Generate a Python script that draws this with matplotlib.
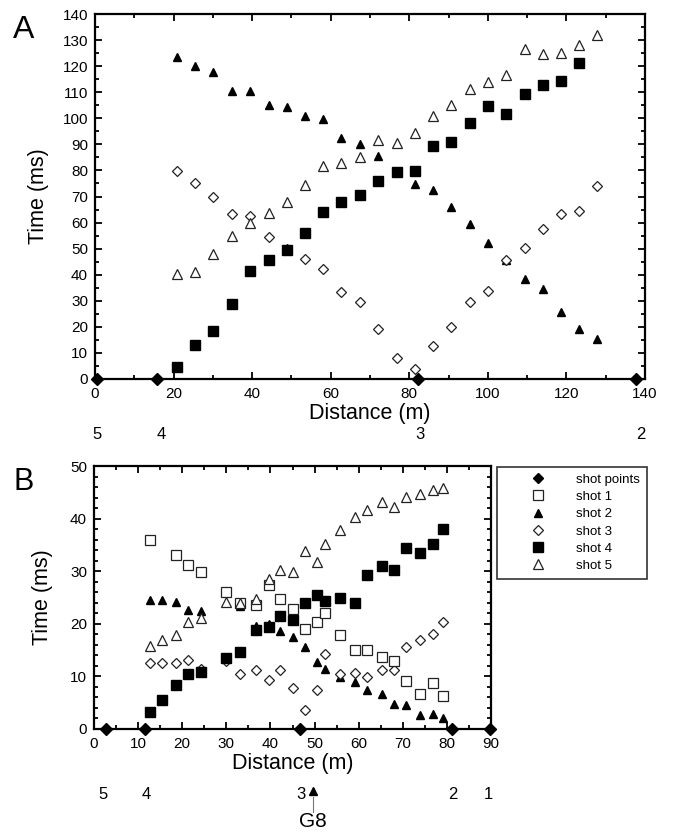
import numpy as np
import matplotlib
matplotlib.use('Agg')
import matplotlib.pyplot as plt
from matplotlib.lines import Line2D
from matplotlib.ticker import MultipleLocator

plt.rcParams['font.family'] = ['Liberation Sans', 'DejaVu Sans']

nan = np.nan

# panel A : receiver positions and first-break times
xa = [20.8, 25.5, 30.1, 34.8, 39.5, 44.2, 48.8, 53.4, 58.0, 62.7, 67.4, 72.1,
      76.8, 81.4, 86.1, 90.7, 95.4, 100.0, 104.7, 109.4, 114.0, 118.6, 123.3, 127.9]
a_shot2 = [123.4, 120.2, 117.8, 110.6, 110.6, 105.0, 104.2, 101.0, 99.7, 92.6, 90.0, 85.5,
           79.5, 74.7, 72.5, 65.9, 59.5, 52.0, 45.6, 38.5, 34.5, 25.7, 19.2, 15.3]
a_shot3 = [79.9, 75.2, 69.7, 63.2, 62.5, 54.3, 50.0, 46.2, 42.3, 33.5, 29.5, 19.2,
           7.9, 3.8, 12.7, 19.9, 29.5, 33.7, 45.6, 50.2, 57.4, 63.2, 64.5, 74.1]
a_shot4 = [4.7, 12.9, 18.3, 28.8, 41.5, 45.5, 49.5, 55.9, 63.9, 68.0, 70.7, 75.9,
           79.5, 79.9, 89.5, 91.0, 98.3, 104.7, 101.5, 109.4, 112.6, 114.3, 121.3, nan]
a_shot5 = [40.3, 40.9, 47.8, 54.8, 59.7, 63.8, 67.8, 74.3, 81.8, 82.7, 85.3, 91.7,
           90.6, 94.2, 100.7, 105.1, 111.2, 113.8, 116.6, 126.6, 124.7, 125.2, 128.1, 132.1]
a_shots = [0.5, 15.8, 82.2, 137.8]
a_shot_names = ['5', '4', '3', '2']
a_name_x = [0.5, 16.8, 82.6, 139.0]

# panel B
xb = [12.7, 15.5, 18.6, 21.4, 24.2, 30.0, 33.0, 36.7, 39.6, 42.2, 45.1, 47.9,
      50.6, 52.4, 55.7, 59.1, 61.9, 65.2, 68.0, 70.7, 74.0, 76.8, 79.1]
b_shot1 = [35.9, nan, 33.1, 31.2, 29.9, 26.0, 23.9, 23.6, 27.4, 24.7, 22.9, 19.1,
           20.4, 22.0, 17.8, 15.1, 15.1, 13.6, 12.9, 9.1, 6.7, 8.8, 6.2]
b_shot2 = [24.5, 24.5, 24.1, 22.6, 22.4, nan, 23.4, 19.6, 19.9, 18.6, 17.4, 15.6,
           12.8, 11.5, 9.8, 9.0, 7.4, 6.6, 4.8, 4.5, 2.7, 2.8, 2.1]
b_shot3 = [12.6, 12.5, 12.5, 13.1, 11.5, 12.9, 10.5, 11.3, 9.4, 11.2, 7.7, 3.6,
           7.4, 14.2, 10.4, 10.7, 9.9, 11.2, 11.3, 15.5, 17.0, 18.0, 20.4]
b_shot4 = [3.2, 5.5, 8.3, 10.4, 10.9, 13.5, 14.7, 18.8, 19.3, 21.5, 20.8, 23.9,
           25.5, 24.3, 25.0, 24.0, 29.3, 31.0, 30.2, 34.4, 33.5, 35.1, 38.0]
b_shot5 = [15.8, 16.9, 17.8, 20.4, 21.1, 24.2, 23.9, 24.8, 28.6, 30.3, 29.8, 33.8,
           31.8, 35.2, 37.8, 40.3, 41.7, 43.1, 42.2, 44.2, 44.6, 45.5, 45.8]
b_shots = [2.7, 11.6, 46.7, 81.1, 89.8]
b_shot_names = ['5', '4', '3', '2', '1']
b_name_x = [2.0, 11.8, 46.8, 81.4, 89.3]
g8_x = 49.6

W, H = 673, 832
fig = plt.figure(figsize=(W / 100, H / 100), dpi=100)

def box(l, t, r, b):
    return [l / W, 1 - b / H, (r - l) / W, (b - t) / H]

def style(ax):
    for s in ax.spines.values():
        s.set_linewidth(1.6)
    ax.tick_params(which='both', direction='in', top=True, right=True,
                   width=1.3, labelsize=11)
    ax.tick_params(which='major', length=5)
    ax.tick_params(which='minor', length=3)
    ax.tick_params(axis='x', pad=6)
    ax.tick_params(axis='y', pad=5)

opn = dict(mfc='white', mec='#222222', mew=0.9, ls='none')
fil = dict(color='black', ls='none')

# ---- panel A
axA = fig.add_axes(box(95, 14, 645, 379))
axA.plot(xa, a_shot2, marker='^', ms=6, **fil)
axA.plot(xa, a_shot3, marker='D', ms=4.6, **opn)
axA.plot(xa, a_shot5, marker='^', ms=6.5, **opn)
axA.plot(xa, a_shot4, marker='s', ms=7, **fil)
axA.plot(a_shots, [0] * len(a_shots), marker='D', ms=6, clip_on=False, zorder=5, **fil)
axA.set_xlim(0, 140)
axA.set_ylim(0, 140)
axA.xaxis.set_major_locator(MultipleLocator(20))
axA.xaxis.set_minor_locator(MultipleLocator(10))
axA.yaxis.set_major_locator(MultipleLocator(10))
axA.yaxis.set_minor_locator(MultipleLocator(5))
style(axA)
axA.set_xlabel('Distance (m)', fontsize=15.5, labelpad=1)
axA.set_ylabel('Time (ms)', fontsize=15.5, labelpad=10)
for xx, nm in zip(a_name_x, a_shot_names):
    axA.text(xx, -0.152, nm, transform=axA.get_xaxis_transform(), fontsize=12,
             ha='center', va='center', clip_on=False)

# ---- panel B
axB = fig.add_axes(box(94, 466, 491, 729))
axB.plot(xb, b_shot2, marker='^', ms=5.5, **fil)
axB.plot(xb, b_shot3, marker='D', ms=4.6, **opn)
axB.plot(xb, b_shot1, marker='s', ms=6.5, **opn)
axB.plot(xb, b_shot5, marker='^', ms=6.5, **opn)
axB.plot(xb, b_shot4, marker='s', ms=6.5, **fil)
axB.plot(b_shots, [0] * len(b_shots), marker='D', ms=6, clip_on=False, zorder=5, **fil)
axB.set_xlim(0, 90)
axB.set_ylim(0, 50)
axB.xaxis.set_major_locator(MultipleLocator(10))
axB.xaxis.set_minor_locator(MultipleLocator(5))
axB.yaxis.set_major_locator(MultipleLocator(10))
axB.yaxis.set_minor_locator(MultipleLocator(2))
style(axB)
axB.set_xlabel('Distance (m)', fontsize=15.5, labelpad=1)
axB.set_ylabel('Time (ms)', fontsize=15.5, labelpad=12)
tr = axB.get_xaxis_transform()
for xx, nm in zip(b_name_x, b_shot_names):
    axB.text(xx, -0.25, nm, transform=tr, fontsize=12,
             ha='center', va='center', clip_on=False)
axB.plot([g8_x], [-0.235], transform=tr, marker='^', ms=5.5, clip_on=False, **fil)
axB.plot([g8_x, g8_x], [-0.26, -0.315], transform=tr, color='#777777', lw=0.8, clip_on=False)
axB.text(g8_x, -0.35, 'G8', transform=tr, fontsize=15, ha='center', va='center',
         clip_on=False)

# legend
handles = [
    Line2D([], [], marker='D', ms=5.5, **fil),
    Line2D([], [], marker='s', ms=7, **opn),
    Line2D([], [], marker='^', ms=6, **fil),
    Line2D([], [], marker='D', ms=5, **opn),
    Line2D([], [], marker='s', ms=7.5, **fil),
    Line2D([], [], marker='^', ms=7, **opn),
]
names = ['shot points', 'shot 1', 'shot 2', 'shot 3', 'shot 4', 'shot 5']
leg = fig.legend(handles, names, loc='upper left', bbox_to_anchor=(497 / W, 1 - 467 / H),
                 fontsize=9.5, frameon=True, fancybox=False, borderpad=0.5,
                 handlelength=5.2, handletextpad=0.3, labelspacing=0.38,
                 borderaxespad=0)
leg.get_frame().set_edgecolor('black')
leg.get_frame().set_linewidth(1.2)

fig.text(13 / W, 1 - 15 / H, 'A', fontsize=23, ha='left', va='top')
fig.text(13 / W, 1 - 467 / H, 'B', fontsize=22, ha='left', va='top')

fig.savefig('out.png', dpi=100)
